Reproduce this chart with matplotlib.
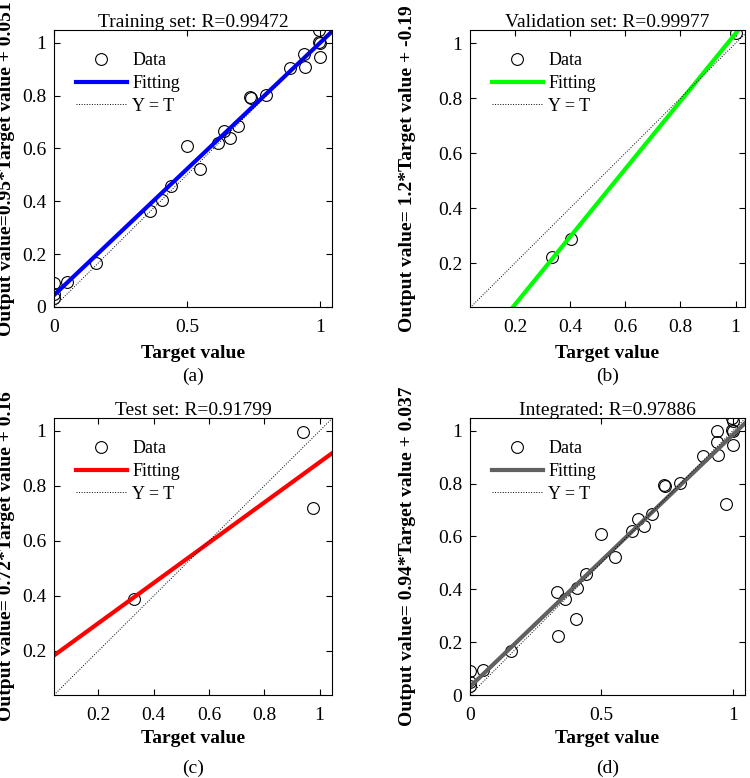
import numpy as np
import matplotlib
matplotlib.use('Agg')
import matplotlib.pyplot as plt
from matplotlib.ticker import FuncFormatter

plt.rcParams['font.family'] = ['Liberation Serif', 'DejaVu Serif']

# values
train_t = [0, 0, 0, 0.05, 0.157, 0.363, 0.407, 0.442, 0.499, 0.551, 0.618, 0.640,
           0.662, 0.693, 0.737, 0.743, 0.799, 0.887, 0.941, 0.944, 0.997, 0.997, 1.0, 1.0]
train_y = [0.089, 0.051, 0.033, 0.095, 0.166, 0.362, 0.406, 0.457, 0.609, 0.523, 0.620, 0.665,
           0.639, 0.685, 0.795, 0.789, 0.801, 0.905, 0.957, 0.909, 1.048, 1.001, 0.997, 0.947]
val_t = [0.333, 0.402, 1.0]
val_y = [0.223, 0.287, 1.037]
test_t = [0.331, 0.939, 0.975]
test_y = [0.388, 0.997, 0.721]
all_t = train_t + val_t + test_t
all_y = train_y + val_y + test_y

titles = ['Training set: R=0.99472', 'Validation set: R=0.99977',
          'Test set: R=0.91799', 'Integrated: R=0.97886']
ylabels = ['Output value=0.95*Target value + 0.051', 'Output value= 1.2*Target value + -0.19',
           'Output value= 0.72*Target value + 0.16', 'Output value= 0.94*Target value + 0.037']
tags = ['(a)', '(b)', '(c)', '(d)']
fit_colors = ['#0000ff', '#00ff00', '#ff0000', '#606060']

panels = [(train_t, train_y), (val_t, val_y), (test_t, test_y), (all_t, all_y)]
xlims = [(0, 1.046), (0.037, 1.034), (0.04, 1.045), (0, 1.046)]
ylims = [(0, 1.048), (0.04, 1.048), (0.04, 1.047), (0, 1.048)]
xticks = [[0, 0.5, 1], [0.2, 0.4, 0.6, 0.8, 1], [0.2, 0.4, 0.6, 0.8, 1], [0, 0.5, 1]]
yticks = [[0, 0.2, 0.4, 0.6, 0.8, 1], [0.2, 0.4, 0.6, 0.8, 1],
          [0.2, 0.4, 0.6, 0.8, 1], [0, 0.2, 0.4, 0.6, 0.8, 1]]

W, H = 750, 778
fig = plt.figure(figsize=(W / 100, H / 100), dpi=100)

# axes boxes in pixels: left, top, right, bottom
boxes = [(54, 30, 332, 307), (470, 30, 745, 307), (54, 418, 332, 695), (470, 418, 745, 695)]
tag_y = [376, 376, 768, 768]
xlab_top = [345, 345, 730, 730]
ylab_x = [15, 416, 15, 416]

fmt = FuncFormatter(lambda v, p: '%g' % v)

for i, (t, y) in enumerate(panels):
    l, tp, r, b = boxes[i]
    ax = fig.add_axes([l / W, 1 - b / H, (r - l) / W, (b - tp) / H])
    x0, x1 = xlims[i]
    ax.plot(t, y, 'o', mfc='none', mec='black', ms=8.5, mew=0.8, label='Data')
    slope, icpt = np.polyfit(t, y, 1)
    xx = np.array([x0, x1])
    ax.plot(xx, slope * xx + icpt, '-', color=fit_colors[i], lw=3, label='Fitting')
    lo = min(x0, ylims[i][0])
    ax.plot([lo, 1.1], [lo, 1.1], ':', color='black', lw=0.7, label='Y = T')
    ax.set_xlim(xlims[i])
    ax.set_ylim(ylims[i])
    ax.set_xticks(xticks[i])
    ax.set_yticks(yticks[i])
    ax.xaxis.set_major_formatter(fmt)
    ax.yaxis.set_major_formatter(fmt)
    ax.tick_params(direction='in', top=True, right=True, length=4, width=0.8,
                   labelsize=14)
    ax.tick_params(axis='x', pad=9)
    ax.tick_params(axis='y', pad=5.5)
    for s in ax.spines.values():
        s.set_linewidth(0.8)
    ax.set_title(titles[i], fontsize=14, pad=2, y=1.0)
    ax.set_xlabel('Target value', fontsize=14, fontweight='bold')
    ax.xaxis.set_label_coords(0.5, (b - xlab_top[i]) / (b - tp))
    ax.xaxis.label.set_va('top')
    ax.set_ylabel(ylabels[i], fontsize=14, fontweight='bold')
    ax.yaxis.set_label_coords((ylab_x[i] - l) / (r - l), 0.5)
    ax.legend(loc='upper left', frameon=False, fontsize=13, handlelength=2.8,
              handletextpad=0.3, labelspacing=0.32, borderaxespad=0.93,
              borderpad=0.3)
    fig.text((l + r) / 2 / W, 1 - tag_y[i] / H, tags[i], fontsize=14,
             ha='center', va='center')

fig.savefig('out.png', dpi=100)
